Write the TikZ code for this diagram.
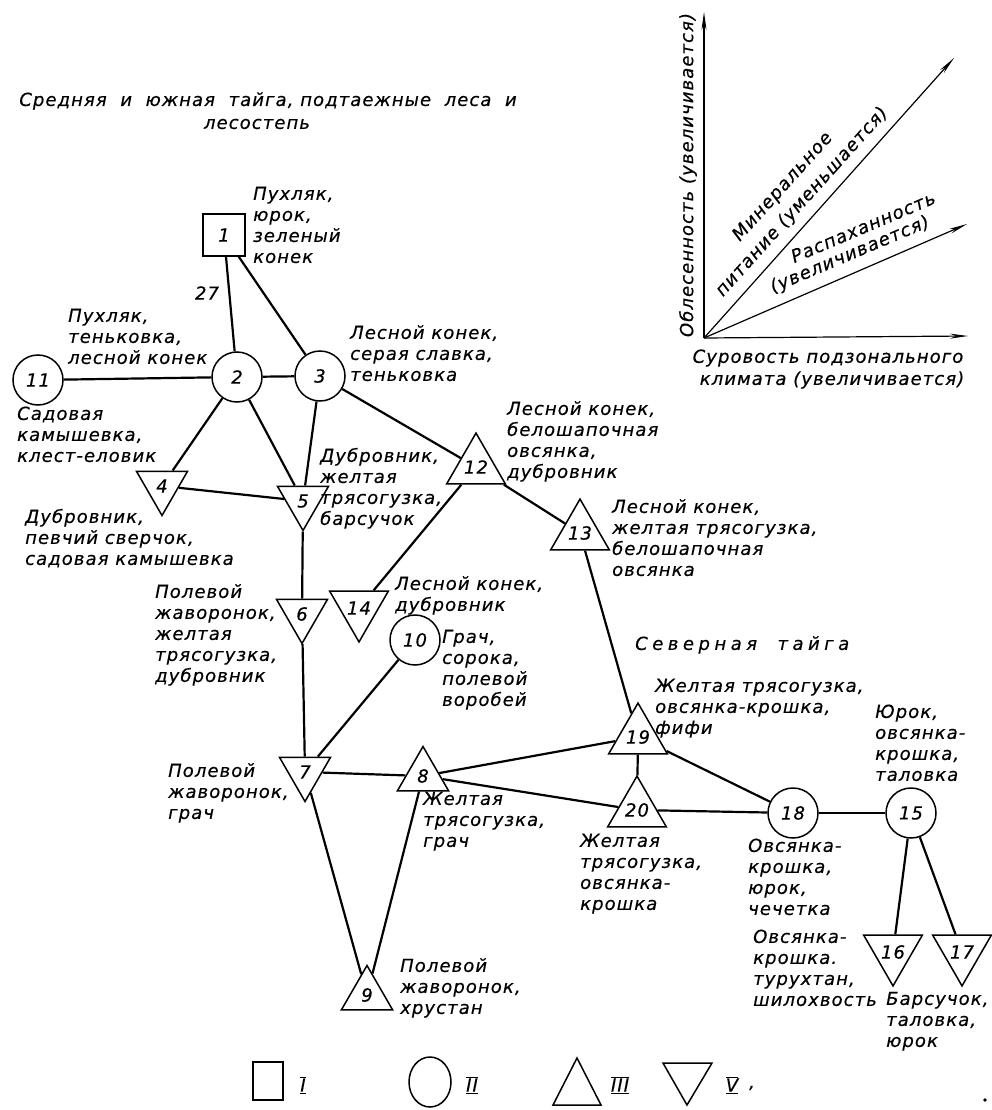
\documentclass[tikz,border=0pt]{standalone}
\usepackage{fontspec}
\setmainfont{DejaVu Sans}[LetterSpace=6,FakeBold=0.4]
\newfontfamily\spaced[LetterSpace=25,FakeBold=0.4]{DejaVu Sans}
\usetikzlibrary{shapes.geometric,arrows.meta}
\begin{document}
\begin{tikzpicture}[x=1pt,y=-1pt,
  every node/.style={font=\itshape\fontsize{18}{21}\selectfont},
  circ/.style={circle,draw,line width=1.5pt,minimum size=50pt,inner sep=0pt},
  sq/.style={rectangle,draw,line width=1.5pt,minimum size=42pt,inner sep=0pt},
  tup/.style={regular polygon,regular polygon sides=3,draw,line width=1.5pt,minimum size=59pt,inner sep=0pt},
  tdn/.style={tup,regular polygon rotate=180},
  lbl/.style={anchor=north west,align=left,inner sep=0pt},
  link/.style={line width=2.2pt},
  ax/.style={line width=1.2pt,-{Stealth[length=18pt,width=5pt]}},
  legshape/.style={draw,line width=1.5pt},
]
\fill[white] (0,0) rectangle (991,1110);
\useasboundingbox (0,0) rectangle (991,1110);

% title
\node (title1) at (268,101) {Средняя\ \ и\ \ южная\ \ тайга,\ подтаежные\ \ леса\ \ и};
\node (title2) at (257,124) {лесостепь};

% axis diagram
\coordinate (O) at (704,338);
\coordinate (Ytop) at (704,12);
\coordinate (Xend) at (968,336);
\coordinate (D1) at (954,58);
\coordinate (D2) at (967,224);
\draw[ax] (O) -- (Ytop);
\draw[ax] (O) -- (Xend);
\draw[ax] (O) -- (D1);
\draw[ax] (O) -- (D2);
\node[rotate=90] (ayl) at (688,175) {Облесенность (увеличивается)};
\node[rotate=48] (d1a) at (783,187) {Минеральное};
\node[rotate=48] (d1b) at (802,202) {питание (уменьшается)};
\node[rotate=23] (d2a) at (863,227) {Распаханность};
\node[rotate=23] (d2b) at (850,255) {(увеличивается)};
\node (axl1) at (828,358) {Суровость\ подзонального};
\node (axl2) at (832,380) {климата (увеличивается)};

% nodes
\node[sq] (n1) at (224,235) {1};
\node[circ] (n2) at (237,377) {2};
\node[circ] (n3) at (320,376) {3};
\node[circ] (n11) at (38,380) {11};
\node[circ] (n10) at (415,640) {10};
\node[circ] (n18) at (793,813) {18};
\node[circ] (n15) at (911,813) {15};
\node[tup] (n12) at (476,467) {12};
\node[tup] (n13) at (580,533) {13};
\node[tup] (n8) at (423,776) {8};
\node[tup] (n9) at (367,995) {9};
\node[tup] (n19) at (638,737) {19};
\node[tup] (n20) at (637,810) {20};
\node[tdn] (n4) at (162,486) {4};
\node[tdn] (n5) at (303,501) {5};
\node[tdn] (n6) at (302,614) {6};
\node[tdn] (n14) at (359,608) {14};
\node[tdn] (n7) at (305,772) {7};
\node[tdn] (n16) at (893,952) {16};
\node[tdn] (n17) at (962,952) {17};

% edges
\draw[link] (n1) -- (n2);
\draw[link] (n1) -- (n3);
\draw[link] (n11) -- (n2);
\draw[link] (n2) -- (n3);
\draw[link] (n2) -- (n4);
\draw[link] (n2) -- (n5);
\draw[link] (n3) -- (n5);
\draw[link] (n3) -- (n12);
\draw[link] (n4) -- (n5);
\draw[link] (n12) -- (n13);
\draw[link] (n12) -- (n14);
\draw[link] (n5) -- (n6);
\draw[link] (n6) -- (n7);
\draw[link] (n10) -- (n7);
\draw[link] (n7) -- (n8);
\draw[link] (n7) -- (n9);
\draw[link] (n8) -- (n9);
\draw[link] (n8) -- (n19);
\draw[link] (n8) -- (n20);
\draw[link] (n13) -- (n19);
\draw[link] (n19) -- (n20);
\draw[link] (n19) -- (n18);
\draw[link] (n20) -- (n18);
\draw[link] (n18) -- (n15);
\draw[link] (n15) -- (n16);
\draw[link] (n15) -- (n17);

% labels
\node (w27) at (207,293) {27};
\node[lbl] (t1) at (253,185) {\strut Пухляк,\\юрок,\\зеленый\\конек};
\node[lbl] (t2) at (68,307) {\strut Пухляк,\\теньковка,\\лесной конек};
\node[lbl] (t11) at (17,405) {\strut Садовая\\камышевка,\\клест-еловик};
\node[lbl] (t3) at (350,324) {\strut Лесной конек,\\серая славка,\\теньковка};
\node[lbl] (t12) at (507,400) {\strut Лесной конек,\\белошапочная\\овсянка,\\дубровник};
\node[lbl] (t13) at (612,498) {\strut Лесной конек,\\желтая трясогузка,\\белошапочная\\овсянка};
\node[lbl] (t5) at (320,447) {\strut Дубровник,\\желтая\\трясогузка,\\барсучок};
\node[lbl] (t4) at (25,508) {\strut Дубровник,\\певчий сверчок,\\садовая камышевка};
\node[lbl] (t6) at (155,583) {\strut Полевой\\жаворонок,\\желтая\\трясогузка,\\дубровник};
\node[lbl] (t14) at (395,575) {\strut Лесной конек,\\дубровник};
\node[lbl] (t10) at (442,628) {\strut Грач,\\сорока,\\полевой\\воробей};
\node[lbl] (t7) at (168,762) {\strut Полевой\\жаворонок,\\грач};
\node[lbl] (t8) at (423,790) {\strut Желтая\\трясогузка,\\грач};
\node[lbl] (t9) at (400,957) {\strut Полевой\\жаворонок,\\хрустан};
\node[lbl] (tnorth) at (635,635) {\strut\spaced Северная\ \ тайга};
\node[lbl] (t19) at (655,677) {\strut Желтая трясогузка,\\овсянка-крошка,\\фифи};
\node[lbl] (t15) at (875,703) {\strut Юрок,\\овсянка-\\крошка,\\таловка};
\node[lbl] (t20) at (580,832) {\strut Желтая\\трясогузка,\\овсянка-\\крошка};
\node[lbl] (t18) at (748,837) {\strut Овсянка-\\крошка,\\юрок,\\чечетка};
\node[lbl] (t16) at (753,928) {\strut Овсянка-\\крошка.\\турухтан,\\шилохвость};
\node[lbl] (t17) at (886,990) {\strut Барсучок,\\таловка,\\юрок};

% legend
\node[legshape,rectangle,minimum width=30pt,minimum height=38pt,inner sep=0pt] (lsq) at (268,1081) {};
\node[legshape,ellipse,minimum width=42pt,minimum height=50pt,inner sep=0pt] (lci) at (430,1082) {};
\draw[legshape] (553,1105) -- (577,1058) -- (601,1105) -- cycle;
\draw[legshape] (663,1063) -- (712,1063) -- (687,1105) -- cycle;
\node (lI) at (303,1085) {$\overline{\underline{\mbox{\itshape I}}}$};
\node (lII) at (472,1085) {$\overline{\underline{\mbox{\itshape II}}}$};
\node (lIII) at (620,1085) {$\overline{\underline{\mbox{\itshape III}}}$};
\node (lV) at (732,1085) {$\overline{\underline{\mbox{\itshape V}}}$};
\node (lcomma) at (752,1088) {,};
\fill (985,1100) circle (1.8pt);
\end{tikzpicture}
\end{document}
